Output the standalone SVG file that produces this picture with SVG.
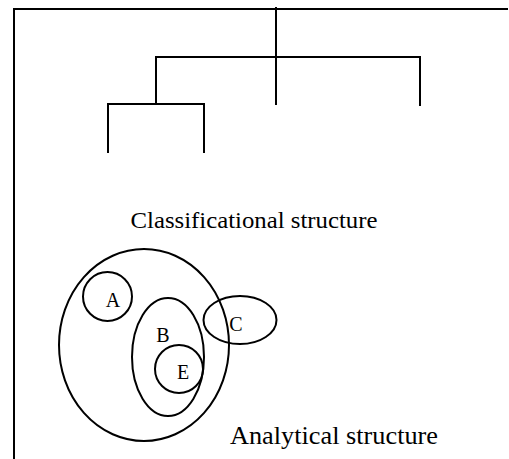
<svg xmlns="http://www.w3.org/2000/svg" width="509" height="459" viewBox="0 0 509 459">
<style>
.ln{fill:none;stroke:#000;stroke-width:2;stroke-linecap:butt}
.sh{fill:none;stroke:#000;stroke-width:2}
.t{fill:#000}
</style>
<rect width="509" height="459" fill="#fff"/>
<g id="frame">
<path class="ln" d="M14,459 V9 H508"/>
</g>
<g id="tree">
<path class="ln" d="M276,7 V105"/>
<path class="ln" d="M156,104 V57 H420 V106"/>
<path class="ln" d="M108,153 V104 H204 V153"/>
</g>
<g id="label-classificational">
<text class="t" font-family="Liberation Serif, DejaVu Serif, serif" x="254" y="228" font-size="24" text-anchor="middle" textLength="247" lengthAdjust="spacingAndGlyphs">Classificational structure</text>
</g>
<g id="outer">
<ellipse class="sh" cx="144" cy="345" rx="85" ry="96"/>
</g>
<g id="A">
<circle class="sh" cx="107.5" cy="296.5" r="24.5"/>
<text class="t" font-family="Liberation Serif, DejaVu Serif, serif" x="113" y="307" font-size="20" text-anchor="middle">A</text>
</g>
<g id="B">
<ellipse class="sh" cx="168" cy="357" rx="36" ry="59"/>
<text class="t" font-family="Liberation Serif, DejaVu Serif, serif" x="163" y="342" font-size="20" text-anchor="middle">B</text>
</g>
<g id="E">
<circle class="sh" cx="179" cy="369" r="24"/>
<text class="t" font-family="Liberation Serif, DejaVu Serif, serif" x="183" y="379" font-size="20" text-anchor="middle">E</text>
</g>
<g id="C">
<ellipse class="sh" cx="240" cy="320" rx="36.5" ry="24"/>
<text class="t" font-family="Liberation Serif, DejaVu Serif, serif" x="236" y="331" font-size="20" text-anchor="middle">C</text>
</g>
<g id="label-analytical">
<text class="t" font-family="Liberation Serif, DejaVu Serif, serif" x="230" y="444" font-size="26" textLength="208" lengthAdjust="spacingAndGlyphs">Analytical structure</text>
</g>
</svg>
